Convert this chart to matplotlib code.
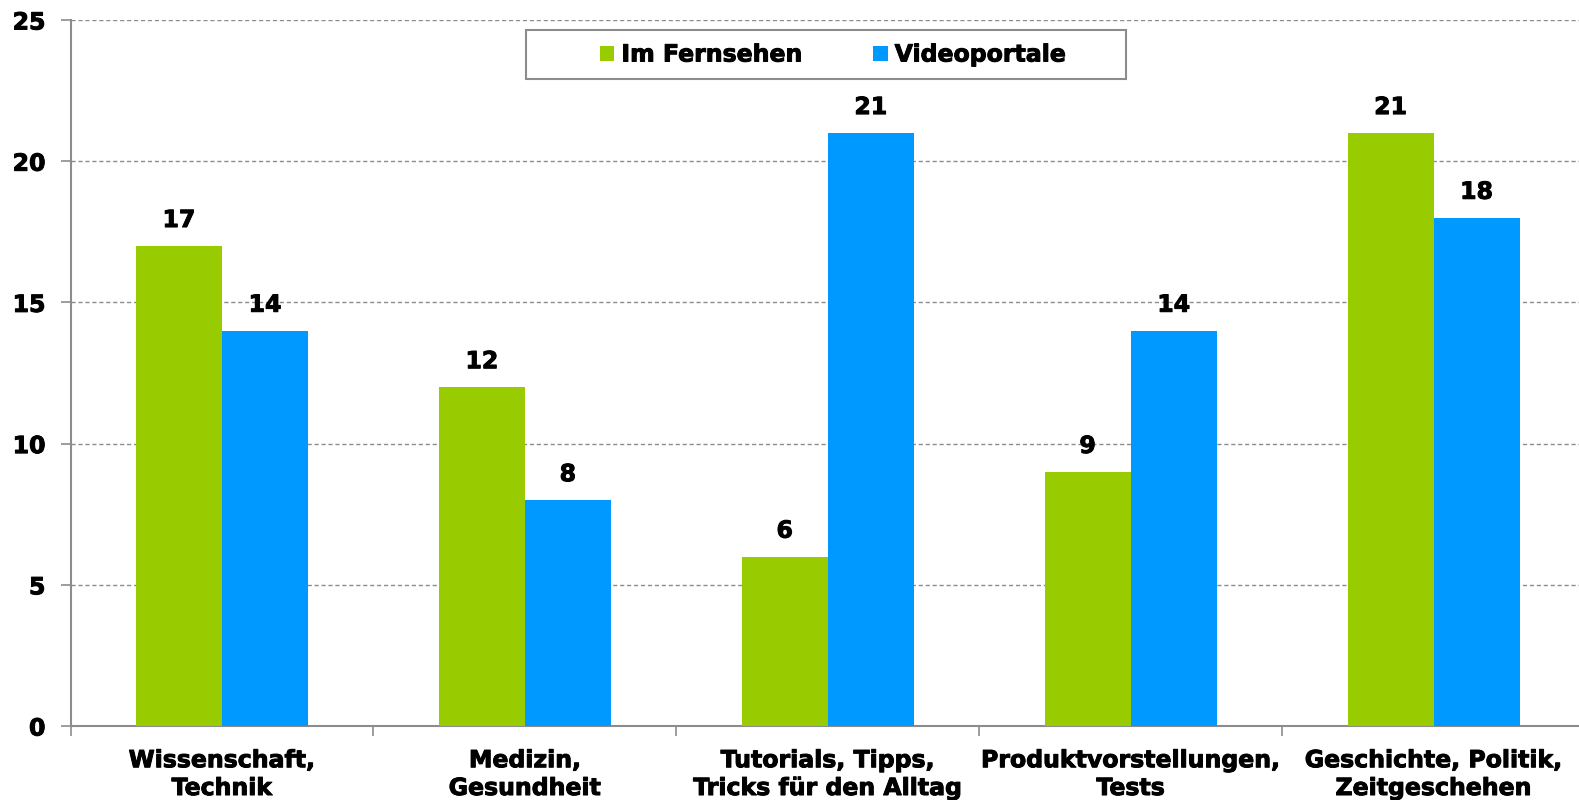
import matplotlib
matplotlib.use("Agg")
import matplotlib.pyplot as plt
import matplotlib.patheffects as pe
from matplotlib.patches import Rectangle
import numpy as np

categories = [
    "Wissenschaft,\nTechnik",
    "Medizin,\nGesundheit",
    "Tutorials, Tipps,\nTricks für den Alltag",
    "Produktvorstellungen,\nTests",
    "Geschichte, Politik,\nZeitgeschehen",
]
fernsehen = [17, 12, 6, 9, 21]
videoportale = [14, 8, 21, 14, 18]
series_names = ["Im Fernsehen", "Videoportale"]
y_ticks = [0, 5, 10, 15, 20, 25]

GREEN = "#99CC00"
BLUE = "#0099FF"
GRID = "#8c8c8c"
FS = 17
heavy = [pe.withStroke(linewidth=0.7, foreground="black")]

plt.rcParams["font.family"] = ["DejaVu Sans"]
plt.rcParams["font.weight"] = "bold"

W, H = 1579, 800
fig = plt.figure(figsize=(W / 100, H / 100), dpi=100)
ax = fig.add_axes([70.5 / W, 1 - 726 / H, (1585 - 70.5) / W, (726 - 20) / H])

x = np.arange(len(categories))
w = 0.284
b1 = ax.bar(x - w / 2, fernsehen, width=w, color=GREEN, label=series_names[0], zorder=3)
b2 = ax.bar(x + w / 2, videoportale, width=w, color=BLUE, label=series_names[1], zorder=3)

for bars in (b1, b2):
    for rect in bars:
        h = rect.get_height()
        ax.annotate(f"{h:g}", (rect.get_x() + rect.get_width() / 2, h),
                    xytext=(0, 10), textcoords="offset points",
                    ha="center", va="bottom", fontsize=FS, fontweight="bold",
                    path_effects=heavy)

ax.set_xlim(-0.5, len(categories) - 0.5)
ax.set_ylim(0, 25)
ax.set_yticks(y_ticks)
ax.set_yticklabels([str(t) for t in y_ticks], fontsize=FS, fontweight="bold")
ax.yaxis.grid(True, linestyle=(0, (3, 2)), color=GRID, linewidth=1.0, zorder=0)
ax.set_axisbelow(True)

ax.set_xticks(x)
ax.set_xticklabels(categories, fontsize=FS, fontweight="bold", linespacing=1.2)
ax.set_xticks(np.arange(-0.5, len(categories)), minor=True)
ax.tick_params(axis="x", which="major", length=0, pad=16)
ax.tick_params(axis="x", which="minor", length=7, width=1.2, color=GRID)
ax.tick_params(axis="y", length=7, width=1.2, color=GRID, pad=11)
for lbl in ax.get_xticklabels() + ax.get_yticklabels():
    lbl.set_path_effects(heavy)

for side in ("top", "right"):
    ax.spines[side].set_visible(False)
for side in ("left", "bottom"):
    ax.spines[side].set_color(GRID)
    ax.spines[side].set_linewidth(1.5)

# legend frame drawn separately (fixed-size box as in the original)
fig.patches.append(Rectangle((526 / W, 1 - 79 / H), 600 / W, 49 / H,
                             transform=fig.transFigure, facecolor="white",
                             edgecolor=GRID, linewidth=1.5, zorder=4))
leg = fig.legend(handles=[b1, b2], labels=series_names, loc="center",
                 bbox_to_anchor=(833 / W, 1 - 54.5 / H), ncol=2, fontsize=FS,
                 frameon=False, handlelength=0.6, handleheight=0.6,
                 columnspacing=3.0, handletextpad=0.3, borderpad=0.0,
                 borderaxespad=0)
leg.set_zorder(5)
for t in leg.get_texts():
    t.set_fontweight("bold")
    t.set_path_effects(heavy)

fig.savefig("out.png", dpi=100)
